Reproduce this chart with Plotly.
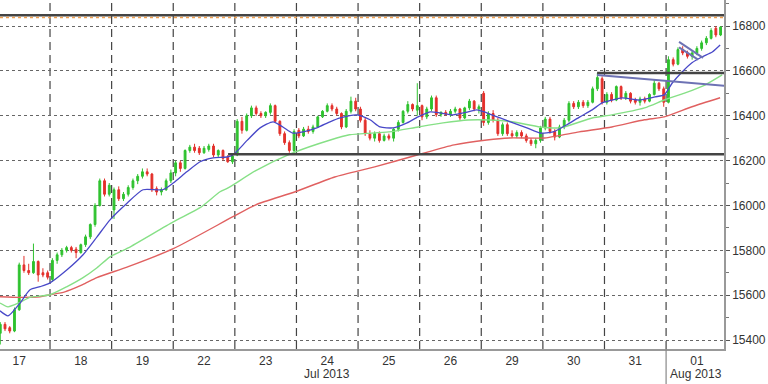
import plotly.graph_objects as go

# ---------------- data ----------------
days = ["17", "18", "19", "22", "23", "24", "25", "26", "29", "30", "31", "01"]
bars_per_day = 13

opens = [
    15460, 15450, 15430, 15470, 15455, 15440, 15535, 15735, 15710, 15700, 15750, 15700, 15700,
    15670, 15755, 15780, 15800, 15812, 15805, 15790, 15825, 15860, 15915, 16000, 16110, 16050,
    15980, 16070, 16030, 16050, 16080, 16110, 16130, 16150, 16140, 16075, 16060, 16070, 16110,
    16145, 16190, 16165, 16245, 16260, 16255, 16235, 16250, 16265, 16225, 16245, 16215, 16195,
    16225, 16375, 16335, 16400, 16435, 16410, 16400, 16415, 16445, 16375, 16320, 16280, 16245,
    16335, 16310, 16340, 16330, 16350, 16395, 16420, 16445, 16430, 16410, 16350, 16420, 16465,
    16430, 16380, 16320, 16300, 16320, 16290, 16310, 16300, 16340, 16370, 16420, 16450, 16425,
    16445, 16395, 16430, 16480, 16405, 16415, 16405, 16420, 16430, 16390, 16435, 16465, 16430,
    16500, 16370, 16410, 16380, 16320, 16360, 16320, 16310, 16325, 16310, 16290, 16275, 16290,
    16345, 16385, 16330, 16305, 16350, 16380, 16455, 16440, 16460, 16445, 16460, 16520, 16565,
    16460, 16495, 16470, 16530, 16480, 16500, 16470, 16460, 16475, 16465, 16495, 16545, 16520,
    16460, 16650, 16630, 16695, 16680, 16665, 16680, 16700, 16725, 16745, 16790, 16760,
]
highs = [
    15480, 15470, 15480, 15480, 15462, 15545, 15745, 15775, 15740, 15830, 15755, 15720, 15710,
    15765, 15790, 15810, 15820, 15820, 15815, 15830, 15870, 15920, 16010, 16120, 16120, 16100,
    16080, 16085, 16060, 16090, 16120, 16140, 16165, 16165, 16145, 16085, 16080, 16120, 16160,
    16200, 16200, 16250, 16270, 16275, 16265, 16265, 16275, 16275, 16250, 16250, 16225, 16230,
    16385, 16395, 16410, 16445, 16445, 16420, 16420, 16455, 16450, 16380, 16330, 16290, 16340,
    16345, 16350, 16355, 16360, 16400, 16425, 16455, 16455, 16440, 16415, 16430, 16485, 16480,
    16440, 16390, 16335, 16330, 16330, 16320, 16320, 16345, 16380, 16425, 16465, 16455, 16545,
    16450, 16440, 16490, 16490, 16420, 16425, 16430, 16440, 16435, 16440, 16475, 16470, 16450,
    16510, 16420, 16425, 16390, 16370, 16370, 16335, 16335, 16335, 16320, 16300, 16300, 16355,
    16395, 16395, 16340, 16360, 16390, 16465, 16465, 16470, 16470, 16470, 16530, 16590, 16575,
    16505, 16505, 16535, 16535, 16510, 16505, 16480, 16485, 16485, 16500, 16560, 16550, 16530,
    16665, 16660, 16705, 16710, 16690, 16690, 16710, 16735, 16755, 16790, 16800, 16800,
]
lows = [
    15430, 15420, 15380, 15440, 15430, 15435, 15530, 15700, 15690, 15695, 15660, 15680, 15670,
    15660, 15740, 15770, 15790, 15790, 15765, 15785, 15815, 15850, 15905, 15995, 16040, 16040,
    15940, 16020, 16020, 16040, 16070, 16095, 16120, 16130, 16060, 16045, 16045, 16065, 16100,
    16130, 16150, 16160, 16235, 16235, 16225, 16230, 16240, 16215, 16215, 16200, 16190, 16185,
    16220, 16320, 16330, 16390, 16400, 16390, 16390, 16405, 16370, 16310, 16270, 16235, 16225,
    16300, 16305, 16320, 16320, 16345, 16390, 16415, 16420, 16400, 16340, 16345, 16410, 16420,
    16370, 16310, 16290, 16285, 16280, 16285, 16290, 16285, 16330, 16365, 16410, 16420, 16400,
    16380, 16385, 16420, 16395, 16395, 16400, 16395, 16410, 16380, 16385, 16425, 16420, 16410,
    16355, 16360, 16370, 16310, 16310, 16310, 16300, 16300, 16300, 16280, 16265, 16255, 16280,
    16335, 16320, 16290, 16300, 16340, 16370, 16430, 16430, 16435, 16435, 16455, 16510, 16450,
    16450, 16460, 16465, 16470, 16470, 16455, 16450, 16445, 16455, 16460, 16490, 16510, 16440,
    16455, 16620, 16625, 16670, 16655, 16650, 16670, 16690, 16715, 16740, 16750, 16755,
]
closes = [
    15450, 15440, 15470, 15450, 15440, 15535, 15735, 15710, 15700, 15750, 15690, 15690, 15680,
    15755, 15780, 15800, 15812, 15800, 15790, 15825, 15860, 15915, 16000, 16110, 16050, 16090,
    16070, 16030, 16050, 16080, 16110, 16130, 16150, 16140, 16070, 16060, 16070, 16110, 16145,
    16190, 16165, 16245, 16260, 16245, 16235, 16255, 16265, 16225, 16245, 16210, 16195, 16220,
    16375, 16335, 16400, 16435, 16410, 16400, 16415, 16445, 16375, 16320, 16280, 16245, 16330,
    16310, 16340, 16330, 16350, 16395, 16420, 16445, 16430, 16410, 16350, 16420, 16465, 16430,
    16380, 16320, 16300, 16320, 16290, 16310, 16300, 16340, 16370, 16420, 16450, 16430, 16445,
    16395, 16430, 16480, 16405, 16415, 16405, 16420, 16430, 16390, 16435, 16465, 16430, 16440,
    16370, 16410, 16380, 16320, 16360, 16320, 16310, 16325, 16310, 16290, 16275, 16290, 16345,
    16385, 16330, 16305, 16350, 16380, 16455, 16440, 16460, 16445, 16460, 16520, 16570, 16460,
    16495, 16470, 16530, 16480, 16500, 16465, 16460, 16475, 16465, 16495, 16545, 16520, 16460,
    16650, 16630, 16695, 16680, 16665, 16680, 16700, 16725, 16745, 16780, 16760, 16795,
]

# moving averages (position in trading days, value)
ma_fast_x = [0.188, 0.318, 0.513, 0.675, 0.84, 1.0, 1.276, 1.536, 1.763, 1.974, 2.25, 2.51, 2.83,
             3.0, 3.22, 3.435, 3.646, 3.87, 3.97, 4.2, 4.41, 4.62, 4.78, 4.94, 5.107, 5.33, 5.545,
             5.71, 5.98, 6.195, 6.357, 6.57, 6.795, 6.974, 7.17, 7.33, 7.54, 7.786, 7.93, 8.09,
             8.305, 8.516, 8.74, 8.955, 9.166, 9.39, 9.6, 9.8, 9.96, 10.12, 10.286, 10.56, 10.82,
             10.97, 11.1, 11.26, 11.42, 11.58, 11.75, 11.877]
ma_fast_y = [15530, 15508, 15565, 15624, 15638, 15655, 15713, 15780, 15860, 15936, 16010, 16070, 16070,
             16100, 16150, 16195, 16212, 16216, 16225, 16290, 16346, 16373, 16350, 16323, 16328, 16346, 16373,
             16390, 16404, 16382, 16350, 16346, 16368, 16395, 16417, 16413, 16404, 16417, 16426, 16413,
             16390, 16368, 16346, 16323, 16328, 16360, 16395, 16426, 16457, 16470, 16480, 16470, 16484,
             16493, 16546, 16595, 16636, 16662, 16684, 16715]

ma_mid_x = [0.188, 0.318, 0.513, 0.675, 1.0, 1.276, 1.536, 1.763, 1.974, 2.27, 3.0, 3.435, 3.76,
            3.89, 4.34, 4.94, 5.55, 5.86, 6.5, 6.974, 7.38, 7.786, 8.127, 8.5, 8.955, 9.28, 9.8,
            10.12, 10.65, 10.97, 11.31, 11.63, 11.91]
ma_mid_y = [15565, 15548, 15568, 15590, 15602, 15638, 15678, 15722, 15771, 15811, 15927, 15990, 16061,
            16078, 16155, 16234, 16292, 16315, 16328, 16350, 16368, 16381, 16381, 16373, 16350, 16346, 16390,
            16404, 16435, 16470, 16502, 16537, 16582]

ma_slow_x = [0.188, 0.51, 0.84, 1.0, 1.24, 1.53, 1.76, 2.27, 3.0, 3.97, 4.34, 4.98, 5.62, 6.27,
             6.96, 7.56, 8.09, 8.46, 9.03, 9.59, 10.12, 10.65, 10.97, 11.42, 11.877]
ma_slow_y = [15593, 15590, 15593, 15602, 15615, 15647, 15678, 15727, 15807, 15950, 16003, 16061, 16127, 16172,
             16225, 16270, 16292, 16301, 16301, 16328, 16350, 16382, 16395, 16440, 16480]

# drawn levels / trendlines: (x0, y0, x1, y1) in trading days and index points
level_top = 16848
level_top_dotted = 16838
level_support = (3.89, 16228)
level_resist = (9.88, 16591)
trend_down = (9.88, 16582, 11.96, 16533)
flag_upper = (11.21, 16729, 11.60, 16658)
flag_lower = (11.21, 16705, 11.52, 16650)

# ---------------- figure ----------------
n = len(closes)
xs = [i // bars_per_day + (i % bars_per_day + 0.5) / bars_per_day for i in range(n)]

X0, X1 = 0.188, 11.94
Y0, Y1 = 15360, 16916

fig = go.Figure()
fig.add_trace(go.Candlestick(
    x=xs, open=opens, high=highs, low=lows, close=closes,
    increasing=dict(line=dict(color="#2fc22f", width=1), fillcolor="#2fc22f"),
    decreasing=dict(line=dict(color="#e3302b", width=1), fillcolor="#e3302b"),
    whiskerwidth=0, showlegend=False, hoverinfo="skip",
))
fig.add_trace(go.Scatter(x=ma_slow_x, y=ma_slow_y, mode="lines",
                         line=dict(color="#e06060", width=1.4, shape="spline", smoothing=0.6),
                         showlegend=False))
fig.add_trace(go.Scatter(x=ma_mid_x, y=ma_mid_y, mode="lines",
                         line=dict(color="#86e086", width=1.4, shape="spline", smoothing=0.6),
                         showlegend=False))
fig.add_trace(go.Scatter(x=ma_fast_x, y=ma_fast_y, mode="lines",
                         line=dict(color="#4848c8", width=1.3, shape="spline", smoothing=0.6),
                         showlegend=False))

shapes = []
# day separators
for d in range(1, len(days)):
    shapes.append(dict(type="line", xref="x", yref="paper", x0=d, x1=d, y0=0, y1=1,
                       line=dict(color="#444444", width=1.2, dash="8px,5px"), layer="below"))
# month separator below the axis
shapes.append(dict(type="line", xref="x", yref="paper", x0=11, x1=11, y0=0, y1=-0.1,
                   line=dict(color="#888888", width=1.2)))
# levels
shapes.append(dict(type="line", xref="paper", yref="y", x0=0, x1=1, y0=level_top, y1=level_top,
                   line=dict(color="#444444", width=2.5)))
shapes.append(dict(type="line", xref="paper", yref="y", x0=0, x1=1, y0=level_top_dotted, y1=level_top_dotted,
                   line=dict(color="#f0a050", width=1.5, dash="dot")))
shapes.append(dict(type="line", xref="x", yref="y", x0=level_support[0], x1=X1,
                   y0=level_support[1], y1=level_support[1], line=dict(color="#444444", width=2.5)))
shapes.append(dict(type="line", xref="x", yref="y", x0=level_resist[0], x1=X1,
                   y0=level_resist[1], y1=level_resist[1], line=dict(color="#444444", width=2.5)))
for t in (trend_down, flag_upper, flag_lower):
    shapes.append(dict(type="line", xref="x", yref="y", x0=t[0], y0=t[1], x1=t[2], y1=t[3],
                       line=dict(color="#6d72b4", width=2)))

annotations = [
    dict(x=5.5, y=-0.073, xref="x", yref="paper", text="Jul 2013", showarrow=False,
         yanchor="middle", font=dict(size=12, color="#333333")),
    dict(x=11.49, y=-0.073, xref="x", yref="paper", text="Aug 2013", showarrow=False,
         yanchor="middle", font=dict(size=12, color="#333333")),
]

fig.update_layout(
    width=768, height=384,
    margin=dict(l=0, r=44, t=0, b=35),
    paper_bgcolor="white", plot_bgcolor="white",
    font=dict(family="Liberation Sans, Arial, sans-serif", size=12, color="#333333"),
    shapes=shapes, annotations=annotations,
    boxgap=0.45,
    xaxis=dict(
        range=[X0, X1], rangeslider=dict(visible=False), showgrid=False, zeroline=False,
        tickmode="array", tickvals=[d + 0.5 for d in range(len(days))], ticktext=days,
        ticks="", showline=True, linecolor="#999999", linewidth=1.5,
        tickfont=dict(size=12, color="#333333"),
    ),
    yaxis=dict(
        side="right", range=[Y0, Y1], tickmode="linear", tick0=15400, dtick=200,
        tickformat="d",
        showgrid=True, gridcolor="#666666", griddash="dot", gridwidth=1,
        zeroline=False, showline=True, linecolor="#999999", linewidth=1.5,
        ticks="outside", ticklen=4, tickcolor="#555555",
        minor=dict(dtick=100, ticks="outside", ticklen=3, tickcolor="#777777", showgrid=False),
        tickfont=dict(size=12, color="#333333"),
    ),
)

fig.write_html("out.html")
